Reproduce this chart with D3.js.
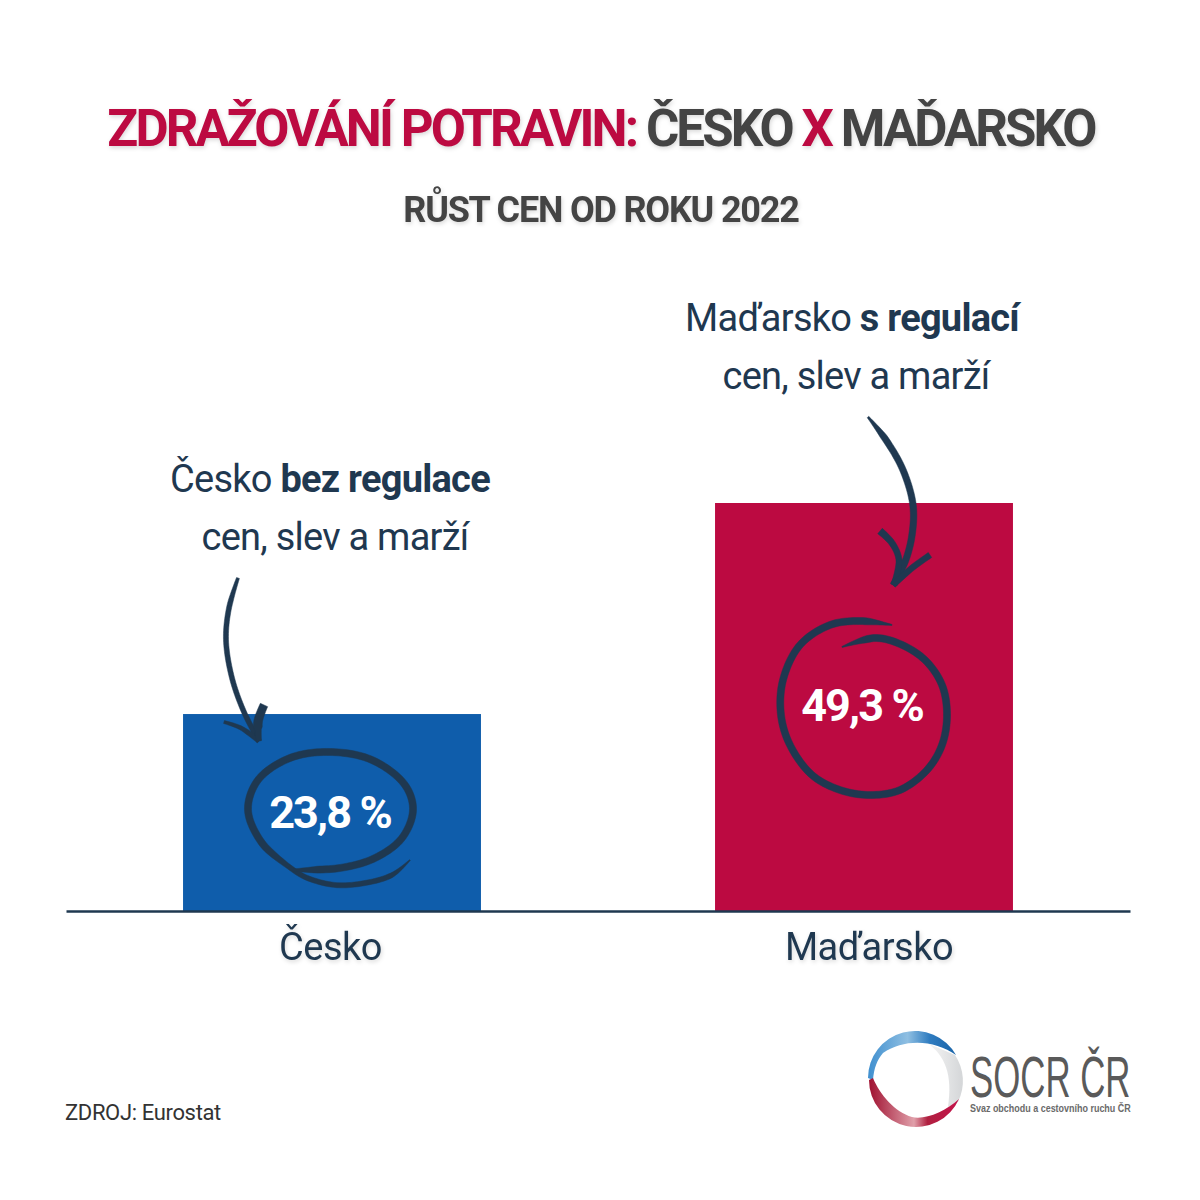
<!DOCTYPE html>
<html lang="cs">
<head>
<meta charset="utf-8">
<script src="https://cdn.jsdelivr.net/npm/d3@7"></script>
<style>
  html, body { margin: 0; background: #fff; }
  svg { display: block; }
  text { font-family: Roboto, sans-serif; }
  .soft { filter: drop-shadow(1px 2px 2px rgba(0,0,0,0.15)); }
</style>
</head>
<body>
<svg id="chart" width="1200" height="1200"></svg>
<script>
const categories = ["Česko", "Maďarsko"];
const values = [23.8, 49.3];
const valueLabels = ["23,8 %", "49,3 %"];
const barColors = ["#0f5dab", "#bc0a41"];

const navy = "#1f3850";
const baseline = 911;

const svg = d3.select("#chart");

const x = d3.scaleBand()
    .domain(categories)
    .range([66, 1130])
    .paddingInner(0.44)
    .paddingOuter(0.22);

const y = d3.scaleLinear()
    .domain([0, 49.3])
    .range([baseline, 503]);

// title
const title = svg.append("text").attr("class", "soft")
    .attr("x", 601).attr("y", 146)
    .attr("text-anchor", "middle")
    .attr("font-size", 51).attr("font-weight", 700).attr("letter-spacing", -2.9);
[["ZDRAŽOVÁNÍ POTRAVIN: ", "#bc0a41"], ["ČESKO ", "#444444"], ["X ", "#bc0a41"], ["MAĎARSKO", "#444444"]]
    .forEach(d => title.append("tspan").attr("fill", d[1]).text(d[0]));

svg.append("text").attr("class", "soft")
    .attr("x", 601).attr("y", 222)
    .attr("text-anchor", "middle")
    .attr("font-size", 36).attr("font-weight", 700).attr("letter-spacing", -1.2)
    .attr("fill", "#444444")
    .text("RŮST CEN OD ROKU 2022");

// bars
svg.selectAll("rect.bar")
    .data(categories)
    .join("rect")
    .attr("class", "bar")
    .attr("x", d => x(d))
    .attr("width", x.bandwidth())
    .attr("y", (d, i) => y(values[i]))
    .attr("height", (d, i) => y(0) - y(values[i]))
    .attr("fill", (d, i) => barColors[i]);

// axis
const axis = svg.append("g")
    .attr("transform", `translate(0,${baseline})`)
    .call(d3.axisBottom(x).tickSize(0).tickPadding(22));
axis.select(".domain").attr("stroke", navy).attr("stroke-width", 2.5);
axis.selectAll("text")
    .attr("class", "soft")
    .attr("dx", (d, i) => i === 0 ? -1.5 : 5)
    .attr("font-family", "Roboto, sans-serif")
    .attr("font-size", 38)
    .attr("letter-spacing", -0.5)
    .attr("fill", navy);

// value labels
svg.selectAll("text.value")
    .data(categories)
    .join("text")
    .attr("class", "value")
    .attr("x", d => x(d) + x.bandwidth() / 2 - 2)
    .attr("y", (d, i) => i === 0 ? 828 : 721)
    .attr("text-anchor", "middle")
    .attr("font-size", 45).attr("font-weight", 700).attr("letter-spacing", -1.9)
    .attr("fill", "#fff")
    .text((d, i) => valueLabels[i]);

// annotations
const notes = [
  { cx: 330, y: 492, a: "Česko ", b: "bez regulace", l2: "cen, slev a marží", dx2: 5 },
  { cx: 852, y: 331, a: "Maďarsko ", b: "s regulací", l2: "cen, slev a marží", dx2: 4 }
];
notes.forEach(n => {
  const t = svg.append("text").attr("x", n.cx).attr("y", n.y)
      .attr("text-anchor", "middle").attr("font-size", 38).attr("letter-spacing", -0.75).attr("fill", navy);
  t.append("tspan").text(n.a);
  t.append("tspan").attr("font-weight", 700).text(n.b);
  svg.append("text").attr("x", n.cx + n.dx2).attr("y", n.y + 58)
      .attr("text-anchor", "middle").attr("font-size", 38).attr("letter-spacing", -0.75).attr("fill", navy)
      .text(n.l2);
});

// hand drawn arrows and circles, w0/w1 = width at the two ends, w = width in the middle
const curve = d3.line().curve(d3.curveCatmullRom.alpha(0.5));
const strokes = [
  // Česko arrow
  { w: 5, w0: 3, w1: 5, p: [[238,578],[229,608],[226,640],[232,678],[244,712],[259,741]] },
  { w: 4.5, w0: 3, w1: 5, p: [[224,722],[241,728],[259,741]] },
  { w: 9, w0: 8, w1: 5, p: [[264,705],[258,722],[259,741]] },
  // Česko circle
  { w: 5, w0: 1, w1: 5, p: [[410,860],[392,875],[365,883],[335,885],[305,877],[288,866]] },
  { w: 7, w0: 5, w1: 2, p: [[288,866],[262,843],[248,810],[258,780],[290,758],[330,752],[372,760],[405,785],[413,810],[402,838],[375,858],[340,868],[293,870]] },
  // Maďarsko arrow
  { w: 6.5, w0: 2, w1: 6, p: [[868,417],[886,440],[903,470],[913,505],[912,535],[905,562],[893,585]] },
  { w: 6, w0: 7, w1: 6, p: [[880,531],[892,543],[899,560],[894,585]] },
  { w: 6, w0: 6, w1: 6, p: [[930,555],[912,568],[893,585]] },
  // Maďarsko circle
  { w: 7, w0: 1, w1: 1, p: [[892,625],[860,621],[830,625],[800,645],[783,680],[781,715],[790,745],[812,775],[840,790],[870,795],[900,790],[927,770],[942,745],[947,715],[942,685],[925,660],[900,644],[875,638],[842,647]] }
];

// turns a centre line into a filled ribbon so the ends can taper
function ribbon(s) {
  const tmp = document.createElementNS("http://www.w3.org/2000/svg", "path");
  tmp.setAttribute("d", curve(s.p));
  const len = tmp.getTotalLength(), n = Math.ceil(len / 3);
  const left = [], right = [];
  for (let i = 0; i <= n; i++) {
    const t = i / n, l = t * len;
    const a = tmp.getPointAtLength(Math.max(0, l - 1)), b = tmp.getPointAtLength(Math.min(len, l + 1));
    const c = tmp.getPointAtLength(l);
    const d = Math.hypot(b.x - a.x, b.y - a.y) || 1;
    const ramp = 25 / len;
    const wid = t < ramp ? s.w0 + (s.w - s.w0) * t / ramp
      : t > 1 - ramp ? s.w1 + (s.w - s.w1) * (1 - t) / ramp : s.w;
    const nx = -(b.y - a.y) / d * wid / 2, ny = (b.x - a.x) / d * wid / 2;
    left.push([c.x + nx, c.y + ny]);
    right.unshift([c.x - nx, c.y - ny]);
  }
  return d3.line()(left.concat(right)) + "Z";
}

svg.append("g").selectAll("path")
    .data(strokes)
    .join("path")
    .attr("d", ribbon)
    .attr("fill", navy)
    .attr("stroke", navy)
    .attr("stroke-width", 0.5)
    .attr("stroke-linejoin", "round");

// source
svg.append("text").attr("x", 65).attr("y", 1120)
    .attr("font-size", 22).attr("letter-spacing", -0.35).attr("fill", "#333")
    .text("ZDROJ: Eurostat");

// logo
const defs = svg.append("defs");
function grad(id, stops) {
  const g = defs.append("linearGradient").attr("id", id);
  stops.forEach(s => g.append("stop").attr("offset", s[0]).attr("stop-color", s[1]));
}
grad("logoBlue", [[0, "#3f8fcf"], [0.45, "#8fbfe2"], [0.7, "#2f7cc0"], [1, "#1a64a8"]]);
grad("logoRed", [[0, "#a01030"], [0.5, "#e0a0aa"], [0.65, "#b02040"], [1, "#c4124a"]]);
grad("logoGrey", [[0, "#f6f6f6"], [1, "#d4d6d8"]]);

const logo = svg.append("g");
logo.append("path").attr("fill", "url(#logoGrey)")
    .attr("d", "M927,1043 C945,1055 953,1075 948,1107 L958,1102 A47,47 0 0 0 955,1055 Z");
logo.append("path").attr("fill", "url(#logoBlue)")
    .attr("d", "M868,1078 A47,47 0 0 1 956,1055 C935,1040 905,1038 883,1053 C877,1060 874,1068 873,1080 Z");
logo.append("path").attr("fill", "url(#logoRed)")
    .attr("d", "M869,1080 A47,47 0 0 0 959,1099 C945,1112 925,1120 912,1117 C895,1112 880,1095 873,1078 Z");

// no narrow font is installed, so the wordmark is squeezed horizontally
const squeezed = (parent, tx, ty, sx, size, weight, color, str) => parent.append("text")
    .attr("transform", `translate(${tx},${ty}) scale(${sx},1)`)
    .style("font-family", "'Liberation Sans', sans-serif")
    .attr("font-size", size).attr("font-weight", weight).attr("fill", color)
    .text(str);
squeezed(logo, 970, 1097, 0.6, 58, 400, "#5a5a5a", "SOCR ČR");
squeezed(logo, 970, 1112, 0.78, 11.5, 700, "#6a6a6a", "Svaz obchodu a cestovního ruchu ČR");
</script>
</body>
</html>
